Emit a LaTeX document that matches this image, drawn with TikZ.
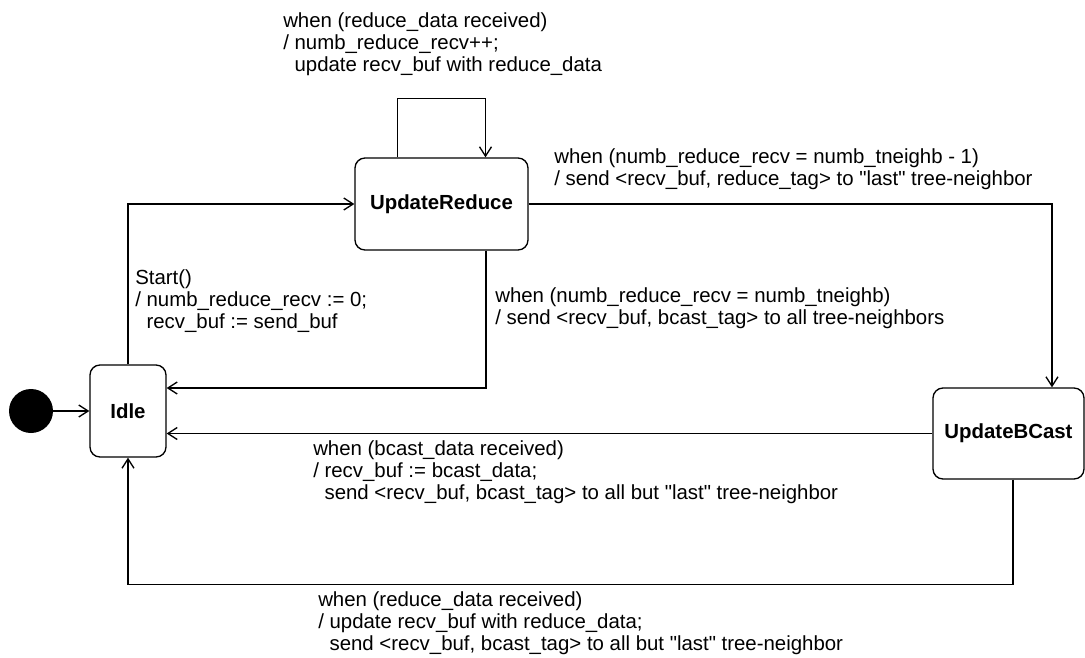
\documentclass[tikz,border=0pt]{standalone}
\usepackage{fontspec}
\setmainfont{Liberation Sans}[Ligatures=TeXOff]
\usepackage{tikz}
\usetikzlibrary{arrows.meta}

\begin{document}
\begin{tikzpicture}[x=0.75pt, y=-0.75pt, font=\fontsize{15.3}{16.5}\selectfont,
		state/.style={draw, rounded corners=7.5pt, line width=1pt, font=\fontsize{15.3}{16.5}\selectfont\bfseries},
		trans/.style={line width=1pt, -{Straight Barb[length=7pt, width=9pt]}},
		guard/.style={anchor=north west, align=left, inner sep=0pt}]
			\useasboundingbox (0,0) rectangle (1085,657);
			% States
			\node[circle, fill, inner sep=0pt, minimum size=33pt] (init) at (31,411) {};
			\node[state, minimum width=57pt, minimum height=69pt] (idle) at (128,411) {Idle};
			\node[state, minimum width=129.75pt, minimum height=69pt] (reduce) at (441.5,204) {UpdateReduce};
			\node[state, minimum width=113.25pt, minimum height=68.25pt] (bcast) at (1008.5,433.5) {UpdateBCast};
			% Transitions
			\draw[trans] (init) -- (idle);
			\draw[trans] (idle.north) |- (reduce.west);
			\draw[trans] ([xshift=-33pt]reduce.north) -- ++(0,-59) -| ([xshift=33pt]reduce.north);
			\draw[trans] ([xshift=33.4pt]reduce.south) |- ([yshift=17.25pt]idle.east);
			\draw[trans] (reduce.east) -| ([xshift=32.6pt]bcast.north);
			\draw[trans] (bcast.west) -- (idle.east |- bcast.west);
			\draw[trans] ([xshift=3.4pt]bcast.south) -- ++(0,105) -| (idle.south);
			% Labels
			\node[guard] (loopLbl) at (283,12) {when (reduce\_data received)\\/ numb\_reduce\_recv++;\\~~update recv\_buf with reduce\_data};
			\node[guard] (startLbl) at (135,269) {Start()\\/ numb\_reduce\_recv := 0;\\~~recv\_buf := send\_buf};
			\node[guard] (allLbl) at (495,287) {when (numb\_reduce\_recv = numb\_tneighb)\\/ send <recv\_buf, bcast\_tag> to all tree-neighbors};
			\node[guard] (lastLbl) at (554,148) {when (numb\_reduce\_recv = numb\_tneighb - 1)\\/ send <recv\_buf, reduce\_tag> to "last" tree-neighbor};
			\node[guard] (bcastLbl) at (313,440) {when (bcast\_data received)\\/ recv\_buf := bcast\_data;\\~~send <recv\_buf, bcast\_tag> to all but "last" tree-neighbor};
			\node[guard] (reduceLbl) at (318,591) {when (reduce\_data received)\\/ update recv\_buf with reduce\_data;\\~~send <recv\_buf, bcast\_tag> to all but "last" tree-neighbor};
		\end{tikzpicture}
\end{document}
